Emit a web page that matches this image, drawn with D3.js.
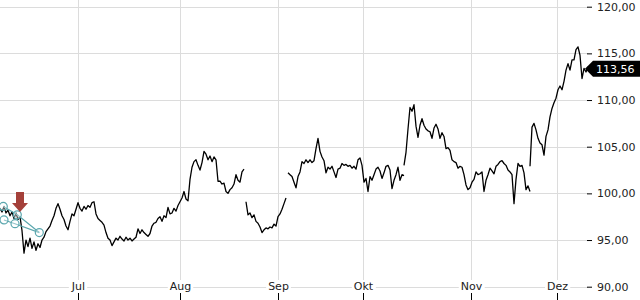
<!DOCTYPE html>
<html><head><meta charset="utf-8">
<script src="https://cdn.jsdelivr.net/npm/d3@7"></script>
<style>html,body{margin:0;padding:0;background:#fff;overflow:hidden}</style>
</head><body><svg id="c" width="640" height="300"></svg>
<script>
// ---- data (index = sample position, value = price) ----
const seg1Start = 0;
const seg1 = [98.4,98.0,98.6,97.9,98.2,97.6,98.0,97.3,97.9,97.2,97.5,96.0,93.6,95.0,94.3,95.2,94.1,94.8,93.9,94.6,
  94.2,95.0,95.3,95.9,96.2,96.5,97.1,97.6,98.4,98.9,98.3,97.6,97.2,96.5,96.1,97.0,97.8,97.6,98.3,99.0,
  98.4,98.1,98.6,98.3,98.7,98.5,99.0,99.1,97.8,97.3,
  97.1,96.9,96.6,95.8,95.2,95.0,94.4,94.8,95.2,95.0,95.4,95.1,94.9,95.3,95.0,95.2,94.9,95.1,95.3,96.2,
  95.7,96.1,95.8,95.6,95.4,95.7,96.5,96.8,96.9,97.3,97.5,97.0,97.6,97.4,98.5,97.8,97.9,98.4,98.1,98.7,
  99.1,99.5,100.2,99.4,99.2,101.5,102.8,103.4,103.6,103.0,
  102.5,103.3,104.5,104.2,103.6,104.0,103.4,103.9,103.6,101.3,101.3,101.0,101.1,100.2,100.0,100.4,100.6,101.0,102.0,101.4,
  101.2,102.3,102.6];
const seg2Start = 123;
const seg2 = [99.1,97.7,97.9,97.4,97.7,97.0,96.8,96.4,95.8,96.1,96.3,96.2,96.4,96.3,96.7,96.5,97.5,97.8,98.3,98.9,99.5];
const seg3Start = 144;
const seg3 = [102.2,102.0,101.8,101.2,100.6,101.8,102.3,103.4,103.2,103.6,
  103.3,103.6,103.3,103.5,104.8,105.9,104.5,103.9,103.5,102.2,
  102.8,102.6,102.9,102.3,101.7,102.6,102.7,103.2,103.0,103.1,
  102.9,103.0,102.7,102.9,102.6,103.6,103.8,103.0,101.2,101.6,
  100.2,101.8,101.4,102.0,102.6,102.8,102.4,101.6,102.2,102.9,
  103.0,102.5,100.5,101.4,102.0,102.8,101.4,102.0,101.9];
const seg4Start = 202;
const seg4 = [103.0,104.4,106.9,109.2,108.8,109.5,107.2,106.0,107.3,108.0,107.3,
  106.9,106.7,106.6,105.9,107.0,107.4,106.9,105.9,106.5,106.1,
  104.8,104.9,104.6,103.6,103.4,103.3,102.7,102.9,102.8,102.0,
  100.9,100.4,100.6,101.2,101.5,102.3,102.0,102.1,102.3,100.2,
  101.4,102.0,102.7,102.4,102.1,102.9,103.1,103.4,103.5,103.2,
  103.0,102.5,102.3,102.0,98.9,101.5,103.2,102.9,103.0,102.2,
  100.4,100.8,100.2];
const seg5Start = 265;
const seg5 = [102.9,107.1,107.5,106.8,105.9,105.4,105.2,104.1,106.1,106.8,
  108.2,109.1,109.7,110.2,111.1,111.5,111.1,112.0,113.2,113.9,
  113.2,114.3,114.3,115.4,115.7,114.8,112.3,113.4,113.0,113.56];
const indexMax = 294;

const monthLabels = ["Jul","Aug","Sep","Okt","Nov","Dez"];
const monthIdx = [39,90,139,181.5,235.5,278.5];
const yTicks = [90,95,100,105,110,115,120];
const lastValue = 113.56;

const patternUpper = [[1.65,98.6],[8.65,97.7],[19.65,95.8]];
const patternLower = [[2,97.15],[7.5,96.75],[19.65,95.8]];
const patternPoints = [[1.65,98.6],[2,97.15],[7.5,96.75],[8.65,97.7],[19.65,95.8]];
const arrowTip = [10,98.0];

// ---- layout ----
const svg = d3.select("#c");
const plotRight = 588;
const x = d3.scaleLinear().domain([0, indexMax]).range([0, plotRight]);
const y = d3.scaleLinear().domain([90, 120]).range([286.7, 6.7]);
const fmt = v => d3.format(".2f")(v).replace(".", ",");
const font = "DejaVu Sans, Verdana, sans-serif";

// grid
svg.append("g").selectAll("line").data(yTicks).join("line")
  .attr("x1", 0).attr("x2", plotRight)
  .attr("y1", d => Math.round(y(d)) + 0.5).attr("y2", d => Math.round(y(d)) + 0.5)
  .attr("stroke", "#dcdcdc").attr("stroke-width", 1);
svg.append("g").selectAll("line").data(monthIdx).join("line")
  .attr("x1", d => Math.round(x(d)) + 0.5).attr("x2", d => Math.round(x(d)) + 0.5)
  .attr("y1", 0).attr("y2", 290)
  .attr("stroke", "#dcdcdc").attr("stroke-width", 1);

// x axis
const xAxis = svg.append("g").attr("transform", "translate(0,293)")
  .call(d3.axisBottom(x).tickValues(monthIdx).tickSize(7)
    .tickFormat((d, i) => monthLabels[i]));
xAxis.select(".domain").remove();
xAxis.selectAll(".tick line").attr("stroke", "#000");
xAxis.selectAll(".tick text").attr("y", -3).attr("dy", 0)
  .attr("font-family", font).attr("font-size", 11).attr("fill", "#222");
xAxis.selectAll(".tick").each(function() {
  const t = d3.select(this).select("text");
  const bb = t.node().getBBox();
  d3.select(this).insert("rect", "text")
    .attr("x", bb.x - 2).attr("y", bb.y).attr("width", bb.width + 4).attr("height", bb.height)
    .attr("fill", "#fff");
});

// y axis (right)
const yAxis = svg.append("g").attr("transform", `translate(${plotRight - 1},0)`)
  .call(d3.axisRight(y).tickValues(yTicks).tickSize(5).tickPadding(5).tickFormat(fmt));
yAxis.select(".domain").remove();
yAxis.selectAll(".tick line").attr("stroke", "#000");
yAxis.selectAll(".tick text").attr("font-family", font).attr("font-size", 11).attr("fill", "#222");

// price line
const line = d3.line().x(d => x(d[0])).y(d => y(d[1]));
const segs = [[seg1Start, seg1], [seg2Start, seg2], [seg3Start, seg3], [seg4Start, seg4], [seg5Start, seg5]];
svg.append("g").selectAll("path").data(segs).join("path")
  .attr("d", s => line(s[1].map((v, i) => [s[0] + i, v])))
  .attr("fill", "none").attr("stroke", "#000").attr("stroke-width", 1.3)
  .attr("stroke-linejoin", "round");

// pattern overlay
const teal = "#5ba7ae";
svg.append("g").selectAll("path").data([patternUpper, patternLower]).join("path")
  .attr("d", line).attr("fill", "none").attr("stroke", teal).attr("stroke-width", 1.2);
svg.append("g").selectAll("circle").data(patternPoints).join("circle")
  .attr("cx", d => x(d[0])).attr("cy", d => y(d[1])).attr("r", 4)
  .attr("fill", "rgba(255,255,255,0.35)").attr("stroke", teal).attr("stroke-width", 1.2);

// arrow
const tx = x(arrowTip[0]), ty = y(arrowTip[1]);
svg.append("path")
  .attr("d", `M${tx-4},${ty-20} h8 v11 h4 l-8,9 l-8,-9 h4 z`)
  .attr("fill", "#a4403a");

// last value badge
const cy = y(lastValue) + 2;
svg.append("path")
  .attr("d", `M${plotRight - 3},${cy} L${plotRight + 5},${cy - 8} L640,${cy - 8} L640,${cy + 8} L${plotRight + 5},${cy + 8} Z`)
  .attr("fill", "#000");
svg.append("text").attr("x", plotRight + 8).attr("y", cy + 4)
  .attr("font-family", font).attr("font-size", 11).attr("fill", "#fff")
  .text(fmt(lastValue));
</script></body></html>
